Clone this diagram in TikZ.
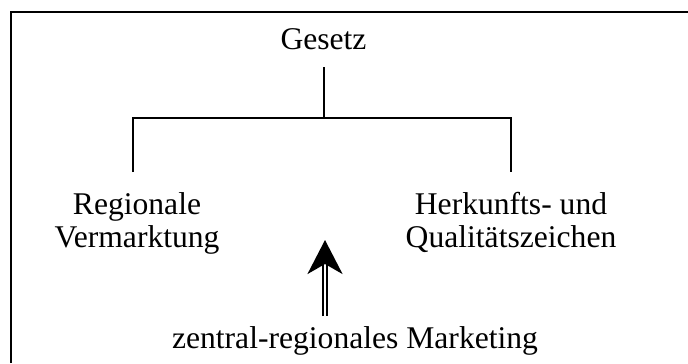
\documentclass[tikz,border=0pt]{standalone}
\usepackage{fontspec}
\setmainfont{Liberation Serif}
\usetikzlibrary{arrows.meta,calc,positioning}
\tikzstyle{term}=[
  font={\fontsize{15.8pt}{16.5pt}\selectfont},
  inner xsep=0pt,
  inner ysep=8.5pt,
  outer sep=0pt,
  align=center,
  anchor=base,
]
\tikzstyle{leaf}=[
  term,
  inner ysep=10pt,
]
\tikzstyle{frame}=[
  draw=black,
  line width=1pt,
]
\tikzstyle{branch}=[
  draw=black,
  line width=1pt,
]
\tikzstyle{push}=[
  draw=black,
  double=white,
  double distance=0.8pt,
  line width=1.2pt,
  -{Stealth[length=17pt,width=17.5pt,inset=5pt]},
]
\begin{document}
\begin{tikzpicture}[x=0.5pt, y=-0.5pt]
  \useasboundingbox (0,0) rectangle (688,363);
  \draw [frame] (11,363) -- (11,12) -- (688,12);
  %%
  \node (gesetz) [term] at (323.5,50) {Gesetz};
  \node (regional) [leaf] at (137,247) {Regionale\\Vermarktung};
  \node (herkunft) [leaf] at (511,247) {Herkunfts- und\\Qualitätszeichen};
  \node (marketing) [term, inner ysep=5pt] at (355,348) {zentral-regionales Marketing};
  %%
  \coordinate (fork) at ($(gesetz.south)+(0,51)$);
  \coordinate (tip) at (325,240);
  %%
  \draw [branch] (gesetz.south) -- (fork);
  \draw [branch] ([xshift=-2pt]regional.north) |- (fork) -| (herkunft.north);
  \draw [push] (marketing.north -| tip) -- (tip);
\end{tikzpicture}
\end{document}
